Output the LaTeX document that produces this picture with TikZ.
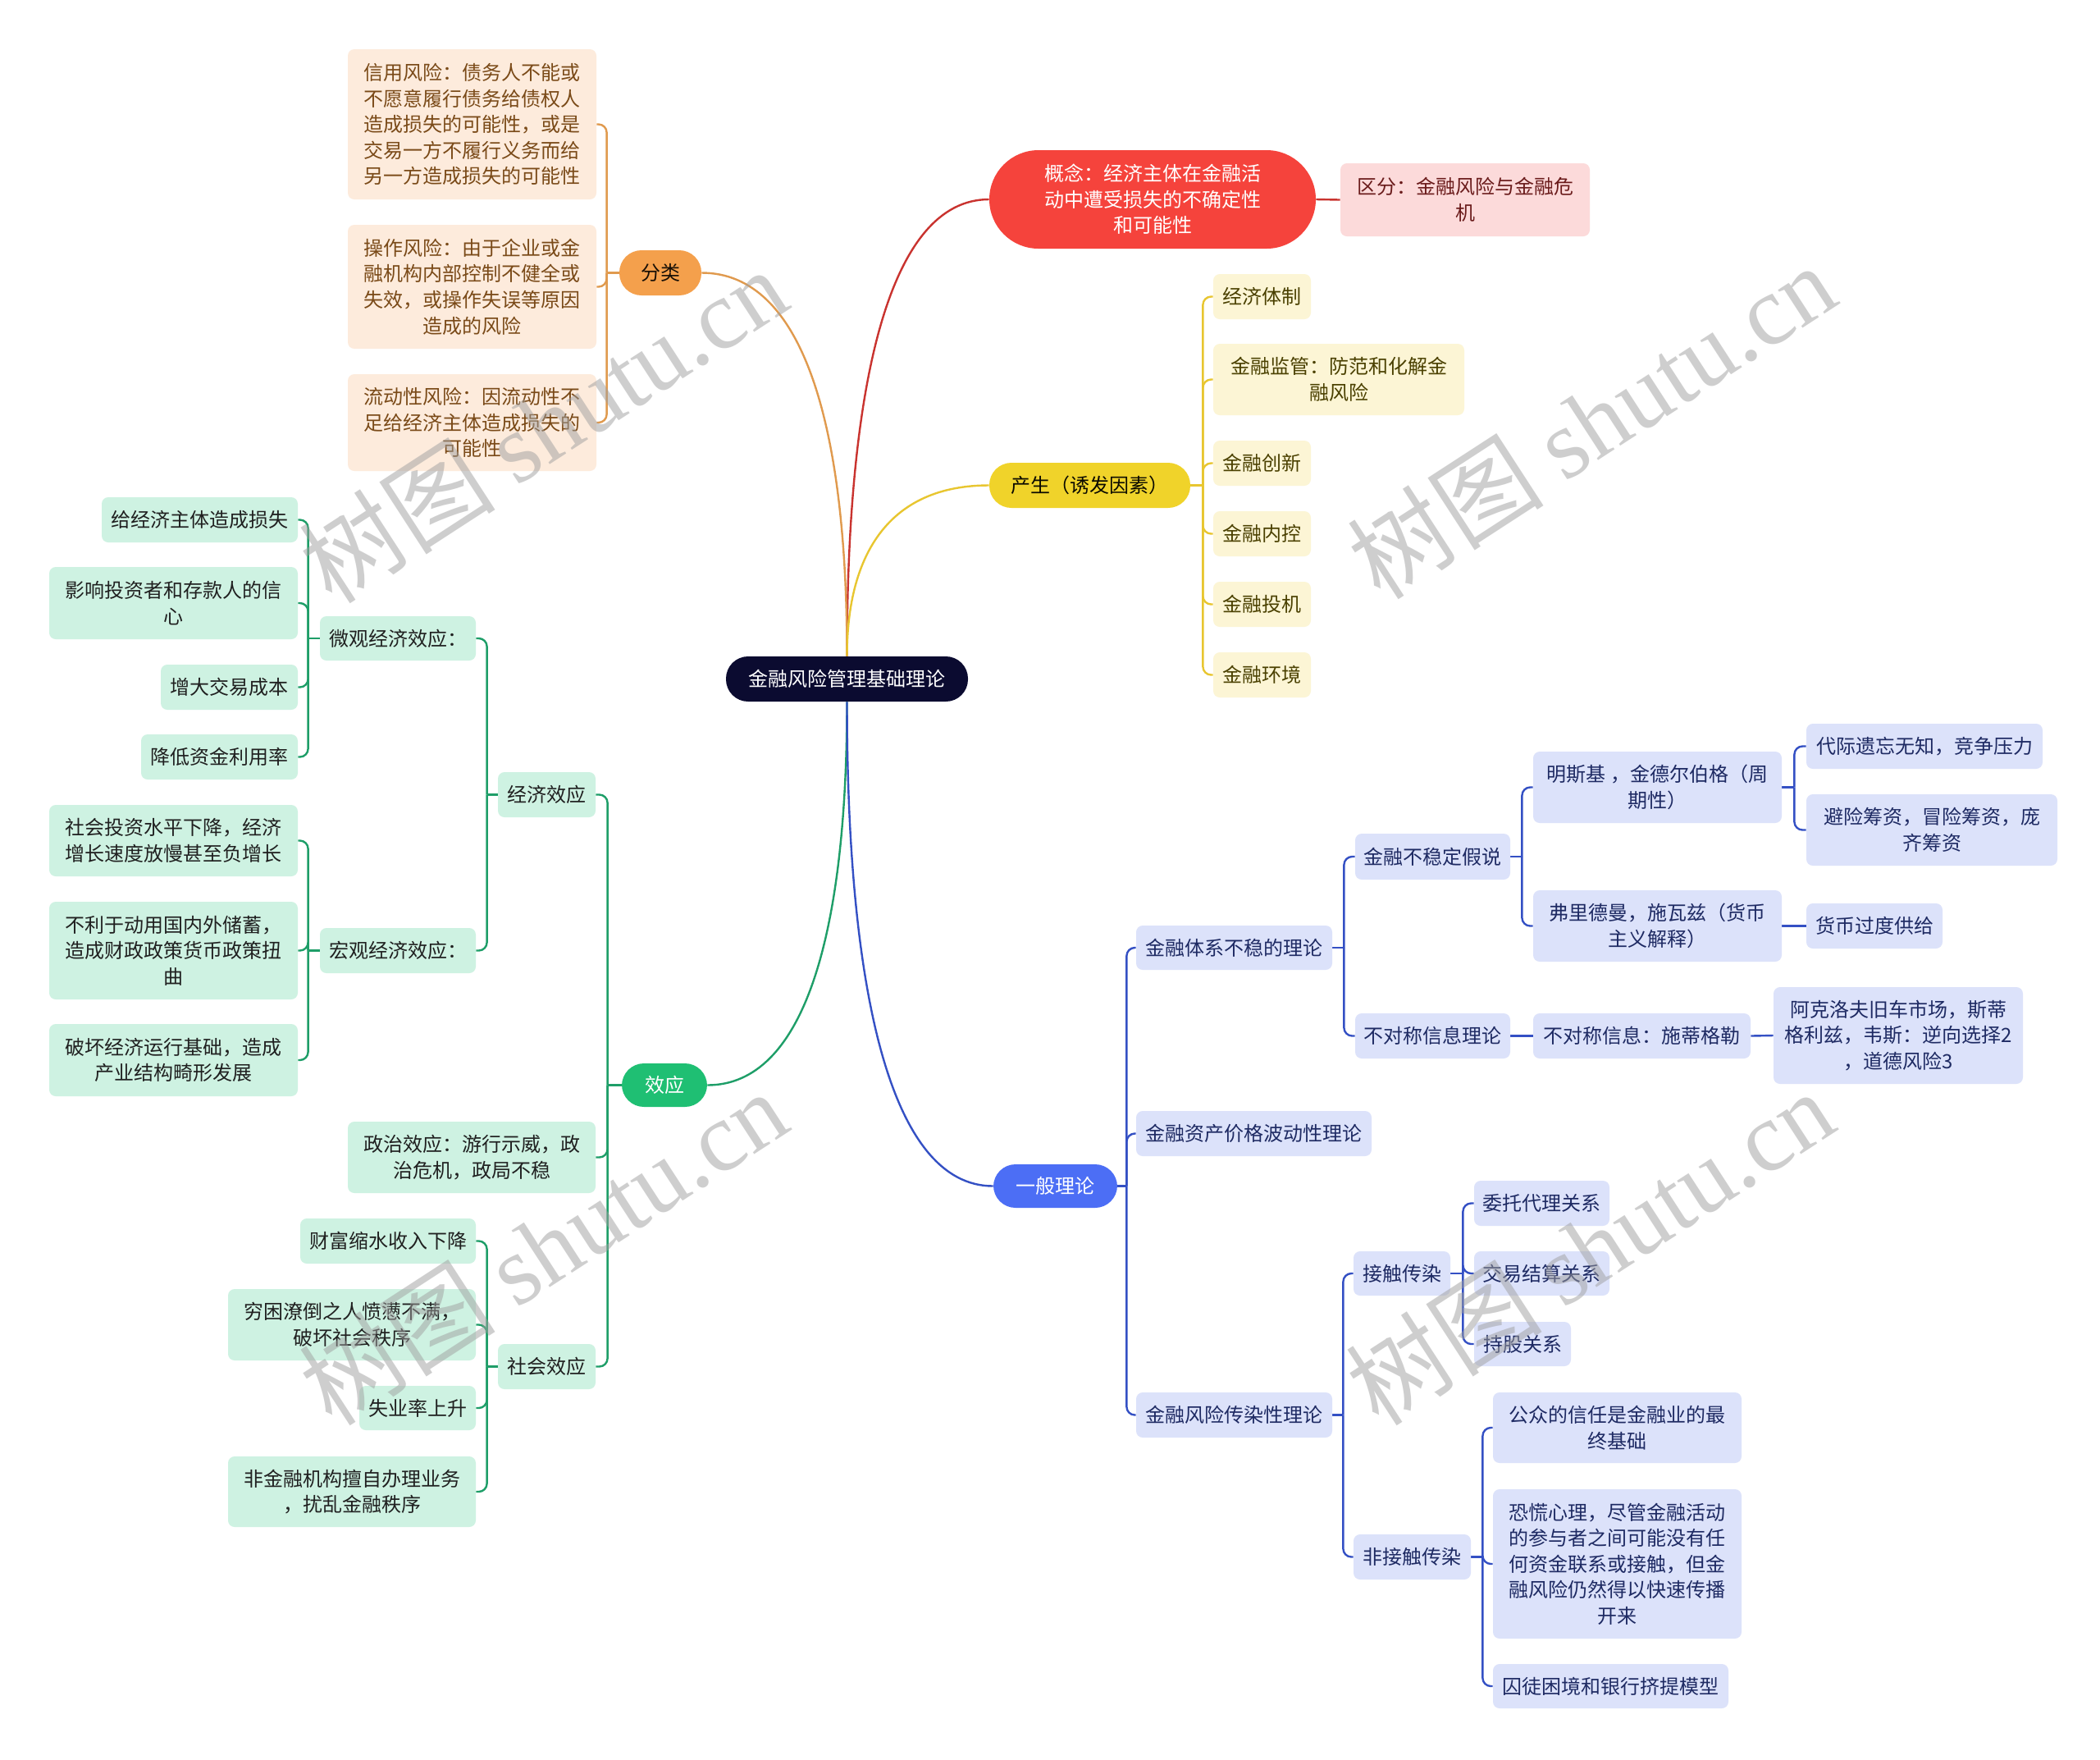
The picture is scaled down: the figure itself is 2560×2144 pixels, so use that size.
\documentclass[tikz,border=0pt]{standalone}
\usepackage{fontspec}
\setmainfont{Noto Sans CJK SC}
\newfontfamily\wmlatin{Liberation Serif}
\usetikzlibrary{calc}
\pgfdeclarelayer{bg}
\pgfsetlayers{bg,main}
\definecolor{rootc}{HTML}{0B0B30}
\definecolor{redP}{HTML}{F5433C}
\definecolor{redL}{HTML}{C9332F}
\definecolor{pinkF}{HTML}{FCDADA}
\definecolor{pinkT}{HTML}{6A1B1B}
\definecolor{orP}{HTML}{F4A04C}
\definecolor{orL}{HTML}{E09A4E}
\definecolor{orF}{HTML}{FDEBDC}
\definecolor{orT}{HTML}{7A4A18}
\definecolor{yeP}{HTML}{F0D32A}
\definecolor{yeL}{HTML}{E8C630}
\definecolor{yeF}{HTML}{FCF5D5}
\definecolor{yeT}{HTML}{4A4000}
\definecolor{grP}{HTML}{1FBF73}
\definecolor{grL}{HTML}{1E9E68}
\definecolor{grF}{HTML}{CEF2E2}
\definecolor{grT}{HTML}{202020}
\definecolor{blP}{HTML}{4C6EF5}
\definecolor{blL}{HTML}{3450C4}
\definecolor{blF}{HTML}{DCE2FA}
\definecolor{blT}{HTML}{1E2A63}
\tikzset{
  bx/.style={rectangle, rounded corners=4pt, inner sep=0pt, align=center,
    font=\fontsize{12}{15.8}\selectfont},
  pill/.style={bx, rounded corners=13.5pt},
  rootn/.style={pill, fill=rootc, text=white},
  obox/.style={bx, fill=orF, text=orT},
  ybox/.style={bx, fill=yeF, text=yeT},
  gbox/.style={bx, fill=grF, text=grT},
  bbox/.style={bx, fill=blF, text=blT},
  pbox/.style={bx, fill=pinkF, text=pinkT},
  oline/.style={draw=orL, line width=1.2pt},
  yline/.style={draw=yeL, line width=1.2pt},
  gline/.style={draw=grL, line width=1.2pt},
  bline/.style={draw=blL, line width=1.2pt},
  rline/.style={draw=redL, line width=1.2pt},
  wm/.style={text=gray!75, opacity=0.5, rotate=33, inner sep=0pt}
}
% \nd{style}{name}{x1}{y1}{x2}{y2}{text}
\newcommand\nd[7]{\node[#1, minimum width={(#5-#3)*0.5pt}, minimum height={(#6-#4)*0.5pt}] (#2) at ({(#3+#5)/2},{(#4+#6)/2}) {#7};}
% right bracket: style, parent, dx, children
\newcommand\rbr[4]{\draw[#1] (#2.east) -- ++(#3,0);
  \foreach \chld in {#4} {\draw[#1, rounded corners=5pt] ($(#2.east)+(#3,0)$) |- (\chld.west);}}
\newcommand\lbr[4]{\draw[#1] (#2.west) -- ++(-#3,0);
  \foreach \chld in {#4} {\draw[#1, rounded corners=5pt] ($(#2.west)+(-#3,0)$) |- (\chld.east);}}
% main curve
\newcommand\mcurve[3]{\draw[#1] let \p1=(#2), \p2=(#3) in (\p1) .. controls (\x1,{\y2+0.4*(\y1-\y2)}) and ({\x1+0.3*(\x2-\x1)},\y2) .. (\p2);}
\begin{document}
\begin{tikzpicture}[x=0.5pt, y=-0.5pt]
\useasboundingbox (0,0) rectangle (2560,2144);
% root
\nd{rootn}{root}{885}{800}{1180}{855}{金融风险管理基础理论}
% orange branch
\nd{pill, fill=orP, text=black!80!orT}{fenlei}{755}{305}{855}{360}{分类}
\nd{obox}{o1}{424}{60}{727}{243}{信用风险：债务人不能或\\不愿意履行债务给债权人\\造成损失的可能性，或是\\交易一方不履行义务而给\\另一方造成损失的可能性}
\nd{obox}{o2}{424}{274}{727}{425}{操作风险：由于企业或金\\融机构内部控制不健全或\\失效，或操作失误等原因\\造成的风险}
\nd{obox}{o3}{424}{456}{727}{574}{流动性风险：因流动性不\\足给经济主体造成损失的\\可能性}
% red branch
\nd{pill, rounded corners=30pt, fill=redP, text=white}{gainian}{1206}{183}{1604}{303}{概念：经济主体在金融活\\动中遭受损失的不确定性\\和可能性}
\nd{pbox}{qufen}{1634}{199}{1938}{288}{区分：金融风险与金融危\\机}
% yellow branch
\nd{pill, fill=yeP, text=black!85!yeT}{chansheng}{1206}{564}{1451}{619}{产生（诱发因素）}
\nd{ybox}{y1}{1479}{334}{1598}{389}{经济体制}
\nd{ybox}{y2}{1479}{419}{1785}{506}{金融监管：防范和化解金\\融风险}
\nd{ybox}{y3}{1479}{537}{1598}{592}{金融创新}
\nd{ybox}{y4}{1479}{623}{1598}{678}{金融内控}
\nd{ybox}{y5}{1479}{709}{1598}{764}{金融投机}
\nd{ybox}{y6}{1479}{795}{1598}{850}{金融环境}
% green branch
\nd{pill, fill=grP, text=white}{xiaoying}{758}{1296}{862}{1349}{效应}
\nd{gbox}{g1}{607}{941}{726}{996}{经济效应}
\nd{gbox}{g2}{424}{1367}{726}{1454}{政治效应：游行示威，政\\治危机，政局不稳}
\nd{gbox}{g3}{607}{1638}{726}{1693}{社会效应}
\nd{gbox}{g11}{390}{751}{580}{805}{微观经济效应：}
\nd{gbox}{g12}{390}{1131}{580}{1186}{宏观经济效应：}
\nd{gbox}{g111}{124}{606}{363}{661}{给经济主体造成损失}
\nd{gbox}{g112}{60}{691}{363}{779}{影响投资者和存款人的信\\心}
\nd{gbox}{g113}{196}{810}{363}{865}{增大交易成本}
\nd{gbox}{g114}{172}{895}{363}{950}{降低资金利用率}
\nd{gbox}{g121}{60}{981}{363}{1068}{社会投资水平下降，经济\\增长速度放慢甚至负增长}
\nd{gbox}{g122}{60}{1099}{363}{1218}{不利于动用国内外储蓄，\\造成财政政策货币政策扭\\曲}
\nd{gbox}{g123}{60}{1248}{363}{1336}{破坏经济运行基础，造成\\产业结构畸形发展}
\nd{gbox}{g31}{366}{1485}{580}{1540}{财富缩水收入下降}
\nd{gbox}{g32}{278}{1571}{580}{1658}{穷困潦倒之人愤懑不满，\\破坏社会秩序}
\nd{gbox}{g33}{438}{1689}{580}{1743}{失业率上升}
\nd{gbox}{g34}{278}{1775}{580}{1861}{非金融机构擅自办理业务\\，扰乱金融秩序}
% blue branch
\nd{pill, fill=blP, text=white}{yiban}{1211}{1419}{1362}{1472}{一般理论}
\nd{bbox}{b1}{1385}{1128}{1624}{1182}{金融体系不稳的理论}
\nd{bbox}{b2}{1385}{1354}{1672}{1409}{金融资产价格波动性理论}
\nd{bbox}{b3}{1385}{1697}{1624}{1752}{金融风险传染性理论}
\nd{bbox}{b11}{1652}{1016}{1841}{1072}{金融不稳定假说}
\nd{bbox}{b12}{1652}{1235}{1841}{1290}{不对称信息理论}
\nd{bbox}{b111}{1869}{916}{2172}{1003}{明斯基 ，金德尔伯格（周\\期性）}
\nd{bbox}{b112}{1869}{1085}{2172}{1172}{弗里德曼，施瓦兹（货币\\主义解释）}
\nd{bbox}{b1111}{2202}{882}{2490}{937}{代际遗忘无知，竞争压力}
\nd{bbox}{b1112}{2202}{968}{2508}{1055}{避险筹资，冒险筹资，庞\\齐筹资}
\nd{bbox}{b1121}{2202}{1101}{2368}{1156}{货币过度供给}
\nd{bbox}{b121}{1869}{1235}{2134}{1290}{不对称信息：施蒂格勒}
\nd{bbox}{b1211}{2162}{1203}{2466}{1321}{阿克洛夫旧车市场，斯蒂\\格利兹，韦斯：逆向选择2\\，道德风险3}
\nd{bbox}{b31}{1650}{1525}{1768}{1579}{接触传染}
\nd{bbox}{b32}{1650}{1870}{1793}{1925}{非接触传染}
\nd{bbox}{b311}{1797}{1439}{1962}{1494}{委托代理关系}
\nd{bbox}{b312}{1797}{1525}{1962}{1579}{交易结算关系}
\nd{bbox}{b313}{1797}{1611}{1915}{1665}{持股关系}
\nd{bbox}{b321}{1820}{1697}{2123}{1783}{公众的信任是金融业的最\\终基础}
\nd{bbox}{b322}{1820}{1815}{2123}{1997}{恐慌心理，尽管金融活动\\的参与者之间可能没有任\\何资金联系或接触，但金\\融风险仍然得以快速传播\\开来}
\nd{bbox}{b323}{1820}{2028}{2107}{2082}{囚徒困境和银行挤提模型}
% connectors
\begin{pgfonlayer}{bg}
\fill[white] (0,0) rectangle (2560,2144);
\mcurve{rline}{root.north}{gainian.west}
\mcurve{oline}{root.north}{fenlei.east}
\mcurve{yline}{root.north}{chansheng.west}
\mcurve{gline}{root.south}{xiaoying.east}
\mcurve{bline}{root.south}{yiban.west}
\draw[rline] (gainian.east) -- (qufen.west);
\lbr{oline}{fenlei}{15}{o1,o2,o3}
\rbr{yline}{chansheng}{15}{y1,y2,y3,y4,y5,y6}
\lbr{gline}{xiaoying}{17}{g1,g2,g3}
\lbr{gline}{g1}{13}{g11,g12}
\lbr{gline}{g11}{14}{g111,g112,g113,g114}
\lbr{gline}{g12}{14}{g121,g122,g123}
\lbr{gline}{g3}{13}{g31,g32,g33,g34}
\rbr{bline}{yiban}{11}{b1,b2,b3}
\rbr{bline}{b1}{14}{b11,b12}
\rbr{bline}{b11}{14}{b111,b112}
\rbr{bline}{b111}{15}{b1111,b1112}
\draw[bline] (b112.east) -- (b1121.west);
\draw[bline] (b12.east) -- (b121.west);
\draw[bline] (b121.east) -- (b1211.west);
\rbr{bline}{b3}{13}{b31,b32}
\rbr{bline}{b31}{15}{b311,b312,b313}
\rbr{bline}{b32}{14}{b321,b322,b323}
\end{pgfonlayer}
% watermarks
\node[wm] (wm1) at (662,518) {\fontsize{60}{60}\selectfont 树图 {\wmlatin shutu.cn}};
\node[wm] (wm2) at (1940,513) {\fontsize{60}{60}\selectfont 树图 {\wmlatin shutu.cn}};
\node[wm] (wm3) at (662,1520) {\fontsize{60}{60}\selectfont 树图 {\wmlatin shutu.cn}};
\node[wm] (wm4) at (1938,1520) {\fontsize{60}{60}\selectfont 树图 {\wmlatin shutu.cn}};
\end{tikzpicture}
\end{document}
